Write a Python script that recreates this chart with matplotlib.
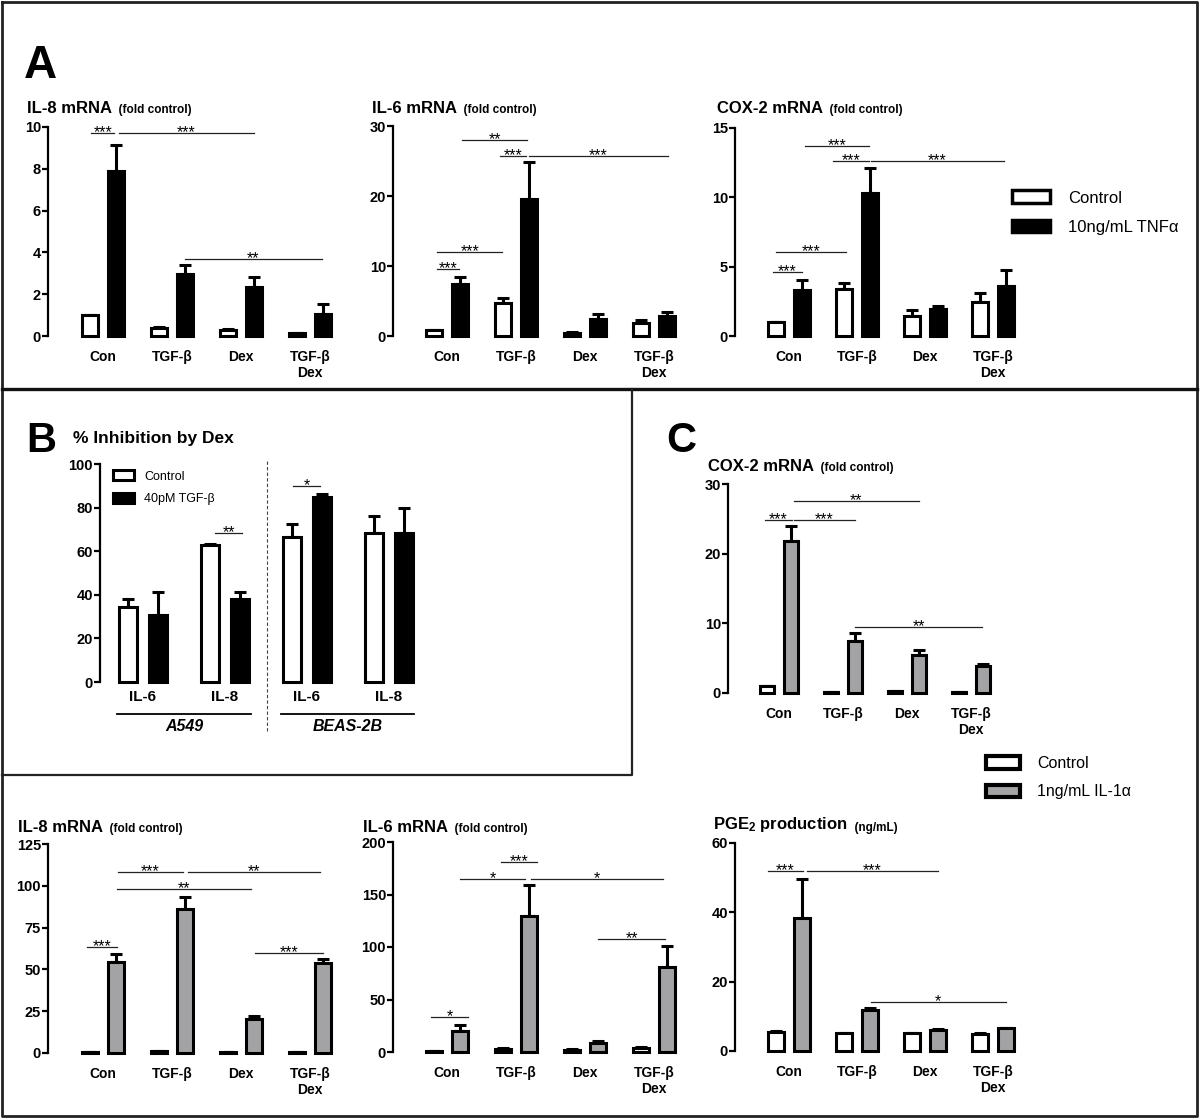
import matplotlib
matplotlib.use('Agg')
import matplotlib.pyplot as plt
from matplotlib.patches import Patch
import numpy as np

# ---------------- data ----------------
cats = ['Con', 'TGF-β', 'Dex', 'TGF-β\nDex']

# Panel A (TNFα stimulation)
a_il8_ctrl = [1.0, 0.4, 0.3, 0.12]
a_il8_ctrl_err = [0.0, 0.05, 0.05, 0.02]
a_il8_tnf = [7.9, 2.95, 2.35, 1.05]
a_il8_tnf_err = [1.25, 0.45, 0.45, 0.5]

a_il6_ctrl = [0.9, 4.7, 0.5, 1.8]
a_il6_ctrl_err = [0.0, 0.8, 0.1, 0.5]
a_il6_tnf = [7.5, 19.6, 2.5, 2.8]
a_il6_tnf_err = [0.9, 5.3, 0.6, 0.6]

a_cox_ctrl = [1.0, 3.4, 1.45, 2.45]
a_cox_ctrl_err = [0.0, 0.4, 0.45, 0.65]
a_cox_tnf = [3.35, 10.3, 1.95, 3.6]
a_cox_tnf_err = [0.7, 1.8, 0.2, 1.15]

# Panel B (% inhibition by Dex)
b_cats = ['IL-6', 'IL-8', 'IL-6', 'IL-8']
b_ctrl = [34.4, 62.8, 66.5, 68.3]
b_ctrl_err = [3.6, 0.4, 6.0, 7.7]
b_tgf = [30.7, 38.0, 84.9, 68.3]
b_tgf_err = [10.6, 3.3, 1.3, 11.5]

# Panel C (IL-1α stimulation)
c_cox_ctrl = [1.0, 0.1, 0.3, 0.1]
c_cox_ctrl_err = [0.0, 0.0, 0.0, 0.0]
c_cox_il1 = [21.8, 7.5, 5.4, 3.9]
c_cox_il1_err = [2.2, 1.1, 0.8, 0.3]

c_il8_ctrl = [0.8, 1.0, 0.3, 0.5]
c_il8_ctrl_err = [0.0, 0.0, 0.0, 0.0]
c_il8_il1 = [54.4, 86.1, 20.3, 53.8]
c_il8_il1_err = [4.8, 7.2, 1.8, 2.4]

c_il6_ctrl = [1.0, 3.0, 2.0, 3.5]
c_il6_ctrl_err = [0.0, 1.0, 0.5, 1.5]
c_il6_il1 = [20.0, 130.0, 8.5, 81.0]
c_il6_il1_err = [5.7, 29.0, 2.0, 20.0]

c_pge_ctrl = [5.5, 5.1, 5.1, 5.0]
c_pge_ctrl_err = [0.3, 0.2, 0.1, 0.1]
c_pge_il1 = [38.3, 11.8, 6.0, 6.6]
c_pge_il1_err = [11.2, 0.5, 0.4, 0.1]

# significance brackets: (x start, x end, y, label)
sig_a_il8 = [(-0.17, 0.16, 9.7, '***'), (0.23, 2.19, 9.7, '***'), (1.19, 3.17, 3.68, '**')]
sig_a_il6 = [(-0.14, 0.17, 9.6, '***'), (-0.14, 0.80, 12.0, '***'), (0.22, 1.16, 28.0, '**'),
             (0.77, 1.14, 25.7, '***'), (1.19, 3.20, 25.7, '***')]
sig_a_cox = [(-0.23, 0.19, 4.6, '***'), (-0.19, 0.84, 6.05, '***'), (0.23, 1.18, 13.7, '***'),
             (0.65, 1.18, 12.6, '***'), (1.21, 3.16, 12.6, '***')]
sig_b = [(1.83, 2.16, 90.0, '*'), (0.88, 1.21, 68.3, '**')]
sig_c_cox = [(-0.22, 0.20, 24.8, '***'), (0.23, 1.19, 24.8, '***'), (0.23, 2.19, 27.5, '**'),
             (1.19, 3.17, 9.5, '**')]
sig_c_il8 = [(-0.23, 0.20, 63.4, '***'), (0.22, 1.16, 108.3, '***'), (1.23, 3.14, 108.3, '**'),
             (0.20, 2.14, 98.1, '**'), (2.20, 3.19, 59.8, '***')]
sig_c_il6 = [(-0.23, 0.30, 33.3, '*'), (0.19, 1.13, 164.8, '*'), (0.78, 1.30, 181.0, '***'),
             (1.22, 3.13, 164.8, '*'), (2.19, 3.16, 107.6, '**')]
sig_c_pge = [(-0.31, 0.20, 51.9, '***'), (0.26, 2.19, 51.9, '***'), (1.20, 3.19, 14.1, '*')]

# ---------------- style ----------------
W, H = 1200, 1119
plt.rcParams['font.family'] = ['Liberation Sans', 'DejaVu Sans']
plt.rcParams['mathtext.fontset'] = 'custom'
plt.rcParams['mathtext.rm'] = 'Liberation Sans'
plt.rcParams['mathtext.bf'] = 'Liberation Sans:bold'
plt.rcParams['mathtext.default'] = 'bf'

GRAY = '#a3a3a6'
fig = plt.figure(figsize=(W / 100, H / 100), dpi=100)
bg = fig.add_axes([0, 0, 1, 1])
bg.set_xlim(0, W)
bg.set_ylim(H, 0)
bg.axis('off')


def px_axes(x0, ytop, x1, ybot):
    ax = fig.add_axes([x0 / W, 1 - ybot / H, (x1 - x0) / W, (ybot - ytop) / H])
    ax.set_facecolor('none')
    return ax


def bar_panel(axis_px, ytop, ybot, c0, sp, ymax, yticks, labels, v1, e1, v2, e2, c2, sigs,
              off=0.19, w=0.225, tick_size=10.5, xlab_size=10, xpad=10):
    right_px = c0 + 3 * sp + 45
    ax = px_axes(axis_px, ytop, right_px, ybot)
    ax.set_xlim((axis_px - c0) / sp, (right_px - c0) / sp)
    ax.set_ylim(0, ymax)
    n = len(labels)
    x = np.arange(n)
    ax.bar(x - off, v1, w, color='white', edgecolor='black', lw=2.2, zorder=3, clip_on=False)
    ax.bar(x + off, v2, w, color=c2, edgecolor='black', lw=2.2, zorder=3, clip_on=False)
    ax.errorbar(x - off, v1, yerr=[np.zeros(n), e1], fmt='none', ecolor='black',
                elinewidth=2.2, capsize=4, capthick=2.2, zorder=2, clip_on=False)
    ax.errorbar(x + off, v2, yerr=[np.zeros(n), e2], fmt='none', ecolor='black',
                elinewidth=2.2, capsize=4, capthick=2.2, zorder=2, clip_on=False)
    for x1, x2, y, s in sigs:
        ax.plot([x1, x2], [y, y], color='#222222', lw=0.9, clip_on=False, zorder=4)
        ax.annotate(s, ((x1 + x2) / 2, y), xytext=(0, -3), textcoords='offset points',
                    ha='center', va='baseline', fontsize=11.5, annotation_clip=False)
    for s in ['top', 'right', 'bottom']:
        ax.spines[s].set_visible(False)
    ax.spines['left'].set_linewidth(1.6)
    ax.set_yticks(yticks)
    ax.set_yticklabels([str(t) for t in yticks], fontweight='bold', fontsize=tick_size)
    ax.tick_params(axis='y', direction='out', length=4, width=1.6, pad=1)
    ax.set_xticks(x)
    ax.set_xticklabels(labels, fontweight='bold', fontsize=xlab_size)
    ax.tick_params(axis='x', length=0, pad=xpad)
    return ax


def title(x, yb, main, sub, size_main=12, size_sub=8.5):
    t = bg.text(x, yb, main, fontsize=size_main, fontweight='bold', va='baseline', ha='left')
    if sub:
        bg.annotate('  ' + sub, xy=(1, 0), xycoords=t, va='bottom', ha='left',
                    fontsize=size_sub, fontweight='bold')


# ---------------- borders ----------------
bg.plot([2, 1197, 1197, 2, 2], [2, 2, 1116, 1116, 2], color='#222222', lw=2.0)
bg.plot([2, 1197], [389, 389], color='#111111', lw=2.4)
bg.plot([632, 632, 2], [389, 775, 775], color='#222222', lw=1.6)

# ---------------- Panel A ----------------
bg.text(24, 78, 'A', fontsize=33, fontweight='bold', va='baseline')
title(27, 113, 'IL-8 mRNA', '(fold control)')
title(372, 113, 'IL-6 mRNA', '(fold control)')
title(717, 113, 'COX-2 mRNA', '(fold control)')

bar_panel(48, 127, 336, 103, 69, 10, [0, 2, 4, 6, 8, 10], cats,
          a_il8_ctrl, a_il8_ctrl_err, a_il8_tnf, a_il8_tnf_err, 'black', sig_a_il8)
bar_panel(393, 126, 336, 447, 69, 30, [0, 10, 20, 30], cats,
          a_il6_ctrl, a_il6_ctrl_err, a_il6_tnf, a_il6_tnf_err, 'black', sig_a_il6)
bar_panel(735, 128, 336, 789, 68, 15, [0, 5, 10, 15], cats,
          a_cox_ctrl, a_cox_ctrl_err, a_cox_tnf, a_cox_tnf_err, 'black', sig_a_cox)

h_a = [Patch(facecolor='white', edgecolor='black', lw=2.5),
       Patch(facecolor='black', edgecolor='black', lw=2.5)]
fig.legend(h_a, ['Control', '10ng/mL TNFα'], loc='upper left',
           bbox_to_anchor=(1012 / W, 1 - 190.5 / H), frameon=False, fontsize=12,
           handlelength=2.28, handleheight=0.78, handletextpad=1.08, labelspacing=0.84,
           borderpad=0, borderaxespad=0)

# ---------------- Panel B ----------------
bg.text(26, 452, 'B', fontsize=30, fontweight='bold', va='baseline')
bg.text(73, 443, '% Inhibition by Dex', fontsize=12.5, fontweight='bold', va='baseline')

axb = bar_panel(100, 464, 682, 143, 82, 100, [0, 20, 40, 60, 80, 100], b_cats,
                b_ctrl, b_ctrl_err, b_tgf, b_tgf_err, 'black', sig_b,
                off=0.183, w=0.22, tick_size=10.5, xlab_size=11, xpad=6)
tr = axb.get_xaxis_transform()
axb.plot([-0.32, 1.32], [-0.147, -0.147], color='black', lw=1.3, transform=tr, clip_on=False)
axb.plot([1.68, 3.30], [-0.147, -0.147], color='black', lw=1.3, transform=tr, clip_on=False)
axb.text(0.5, -0.206, 'A549', transform=tr, ha='center', va='center',
         fontsize=11.5, fontweight='bold', style='italic')
axb.text(2.5, -0.206, 'BEAS-2B', transform=tr, ha='center', va='center',
         fontsize=11.5, fontweight='bold', style='italic')
axb.plot([1.51, 1.51], [1.014, -0.225], color='#444444', lw=0.8, ls=(0, (3, 2)),
         transform=tr, clip_on=False)

h_b = [Patch(facecolor='white', edgecolor='black', lw=2.2),
       Patch(facecolor='black', edgecolor='black', lw=2.2)]
axb.legend(h_b, ['Control', '40pM TGF-β'], loc='upper left',
           bbox_to_anchor=(113 / W, 1 - 470 / H), bbox_transform=fig.transFigure,
           frameon=False, fontsize=9, handlelength=1.7, handleheight=0.9,
           handletextpad=0.8, labelspacing=0.8, borderpad=0, borderaxespad=0)

# ---------------- Panel C ----------------
bg.text(666, 452, 'C', fontsize=30, fontweight='bold', va='baseline')
title(708, 471, 'COX-2 mRNA', '(fold control)')
title(18, 832, 'IL-8 mRNA', '(fold control)')
title(363, 832, 'IL-6 mRNA', '(fold control)')
title(713, 829, 'PGE$_2$ production', '(ng/mL)')

bar_panel(728, 484, 693, 779, 64, 30, [0, 10, 20, 30], cats,
          c_cox_ctrl, c_cox_ctrl_err, c_cox_il1, c_cox_il1_err, GRAY, sig_c_cox,
          off=0.185, w=0.215)
bar_panel(48, 844, 1053, 103, 69, 125, [0, 25, 50, 75, 100, 125], cats,
          c_il8_ctrl, c_il8_ctrl_err, c_il8_il1, c_il8_il1_err, GRAY, sig_c_il8)
bar_panel(393, 842, 1052, 447, 69, 200, [0, 50, 100, 150, 200], cats,
          c_il6_ctrl, c_il6_ctrl_err, c_il6_il1, c_il6_il1_err, GRAY, sig_c_il6)
bar_panel(735, 843, 1051, 789, 68, 60, [0, 20, 40, 60], cats,
          c_pge_ctrl, c_pge_ctrl_err, c_pge_il1, c_pge_il1_err, GRAY, sig_c_pge)

h_c = [Patch(facecolor='white', edgecolor='black', lw=3),
       Patch(facecolor=GRAY, edgecolor='black', lw=3)]
fig.legend(h_c, ['Control', '1ng/mL IL-1α'], loc='upper left',
           bbox_to_anchor=(986 / W, 1 - 756 / H), frameon=False, fontsize=11.5,
           handlelength=2.13, handleheight=0.81, handletextpad=1.06, labelspacing=0.84,
           borderpad=0, borderaxespad=0)

fig.savefig('out.png', dpi=100)
